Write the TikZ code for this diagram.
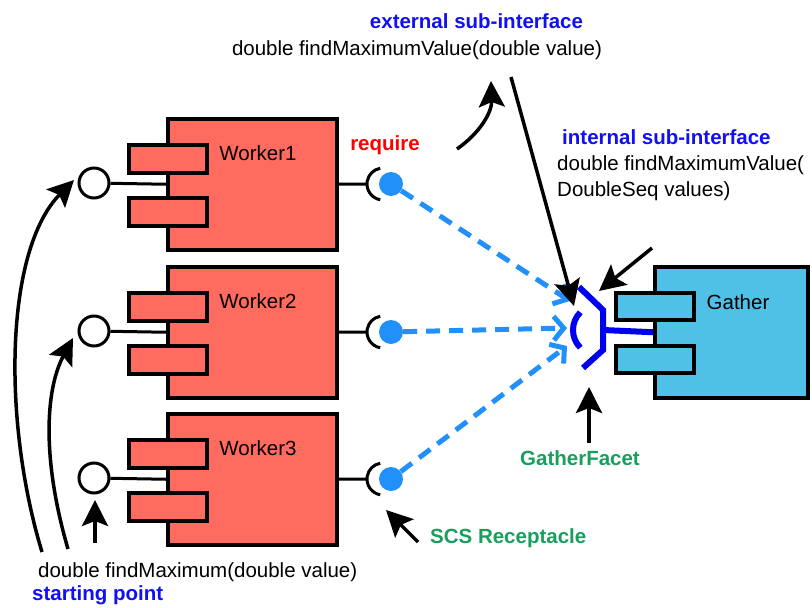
\documentclass[tikz,border=0pt]{standalone}
\usepackage{fontspec}
\setmainfont{Liberation Sans}
\usetikzlibrary{arrows.meta}
\definecolor{workerred}{HTML}{FF6B5E}
\definecolor{gatherblue}{HTML}{50C1E6}
\definecolor{dashblue}{HTML}{2190F8}
\definecolor{facetblue}{HTML}{0000F0}
\definecolor{labelgreen}{HTML}{1A9E5E}
\definecolor{labelblue}{HTML}{1010F0}
\begin{document}
\begin{tikzpicture}[x=1pt,y=-1pt,
  txt/.style={inner sep=0pt,font=\fontsize{20.5}{24}\selectfont},
  btxt/.style={inner sep=0pt,font=\fontsize{20.5}{24}\selectfont\bfseries},
  wbox/.style={draw=black,line width=3.5pt,fill=workerred,inner sep=0pt,anchor=north west,minimum width=169pt,minimum height=131pt},
  wtab/.style={draw=black,line width=3.5pt,fill=workerred,inner sep=0pt,anchor=north west,minimum width=78pt,minimum height=28pt},
  gbox/.style={draw=black,line width=3.5pt,fill=gatherblue,inner sep=0pt,anchor=north west,minimum width=153pt,minimum height=131pt},
  gtab/.style={draw=black,line width=3.5pt,fill=gatherblue,inner sep=0pt,anchor=north west,minimum width=78pt,minimum height=27pt},
  lolly/.style={circle,draw=black,line width=3pt,fill=white,minimum size=30pt,inner sep=0pt},
  dot/.style={circle,fill=dashblue,minimum size=24pt,inner sep=0pt},
  wire/.style={line width=3pt},
  recarc/.style={line width=3pt},
  dasharrow/.style={dashblue,line width=5pt,dash pattern=on 14pt off 9pt,-{Straight Barb[length=10pt,width=24pt]}},
  pointer/.style={line width=3.5pt,-{Stealth[length=26pt,width=26pt,inset=5pt]}},
  facet/.style={facetblue,line width=6pt}
]
\useasboundingbox (0,0) rectangle (812,608);

% Workers
\foreach \i/\t in {1/117,2/265,3/412}{
  \node[wbox] (w\i) at (166,\t) {};
  \node[wtab] (wa\i) at (127,\t+26) {};
  \node[wtab] (wb\i) at (127,\t+79) {};
  \node[txt] (wl\i) at (258,\t+36) {Worker\i};
  \node[lolly] (c\i) at (94,\t+66) {};
  \draw[wire] (c\i) -- (w\i.west);
  \coordinate (r\i) at (383,\t+67);
  \coordinate (rl\i) at (367,\t+67);
  \draw[recarc] ([shift={(100:16)}]r\i) arc (100:260:16);
  \draw[wire] (w\i.east) -- (rl\i);
  \node[dot] (d\i) at (391,\t+67) {};
}

% Gather
\node[gbox] (g) at (653,265) {};
\node[gtab] (ga) at (614,291) {};
\node[gtab] (gb) at (614,344) {};
\node[txt] (gl) at (738,302) {Gather};

% Facet
\coordinate (f1) at (579,287);
\coordinate (f2) at (603,310);
\coordinate (f3) at (603,350);
\coordinate (f4) at (583,368);
\coordinate (fm) at (603,330);
\coordinate (fc) at (598,330);
\draw[facet] (f1) -- (f2) -- (f3) -- (f4);
\draw[facet] (fm) -- (g.west);
\draw[facet] ([shift={(135:25)}]fc) arc (135:225:25);

% dashed connections
\coordinate (t1) at (570,301);
\coordinate (t2) at (567,328);
\coordinate (t3) at (567,346);
\draw[dasharrow] (d1) -- (t1);
\draw[dasharrow] (d2) -- (t2);
\draw[dasharrow] (d3) -- (t3);

% texts
\node[btxt,text=labelblue] (ext) at (476.5,21) {external sub-interface};
\node[txt] (extsig) at (417,50) {double findMaximumValue(double value)};
\node[btxt,text=labelblue,anchor=west] (int) at (562,137) {internal sub-interface};
\node[txt,anchor=west] (intsig1) at (557,165) {double findMaximumValue(};
\node[txt,anchor=west] (intsig2) at (557,191) {DoubleSeq values)};
\node[btxt,text=red] (req) at (385,145) {require};
\node[btxt,text=labelgreen] (gf) at (580,458) {GatherFacet};
\node[btxt,text=labelgreen,anchor=west] (scs) at (430,538) {SCS Receptacle};
\node[txt,anchor=west] (startsig) at (38,572) {double findMaximum(double value)};
\node[btxt,text=labelblue,anchor=west] (start) at (32,595) {starting point};

% pointers
\coordinate (s1a) at (42,552);
\coordinate (s1b) at (74,180);
\coordinate (s2a) at (68,549);
\coordinate (s2b) at (73,338);
\coordinate (s3a) at (95,543);
\coordinate (s3b) at (95,500);
\draw[pointer] (s1a) .. controls (2,420) and (5,250) .. (s1b);
\draw[pointer] (s2a) .. controls (42,460) and (45,390) .. (s2b);
\draw[pointer] (s3a) -- (s3b);

\coordinate (ea) at (457,149);
\coordinate (eb) at (491,81);
\draw[pointer] (ea) .. controls (480,133) and (492,112) .. (eb);

\coordinate (xa) at (511,77);
\coordinate (xb) at (574,306);
\draw[pointer] (xa) -- (xb);

\coordinate (ia) at (652,248);
\coordinate (ib) at (599,291);
\draw[pointer] (ia) -- (ib);

\coordinate (ga1) at (589,443);
\coordinate (gb1) at (589,387);
\draw[pointer] (ga1) -- (gb1);

\coordinate (sa) at (418,542);
\coordinate (sb) at (386,510);
\draw[pointer] (sa) -- (sb);
\end{tikzpicture}
\end{document}
